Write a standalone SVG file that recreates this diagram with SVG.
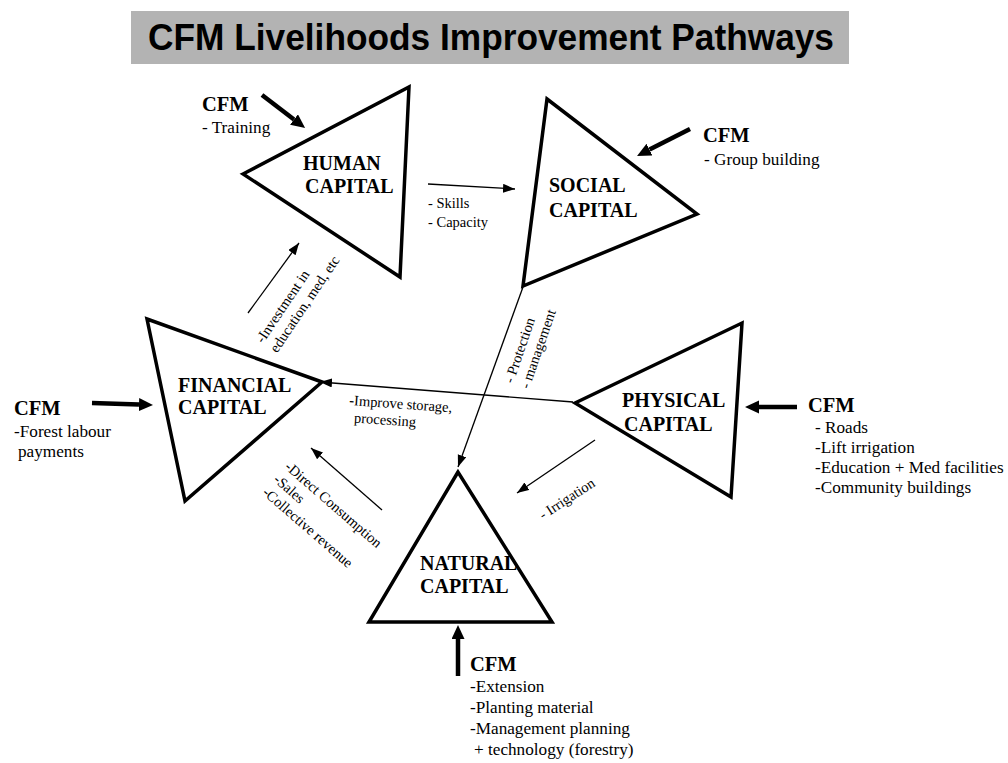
<svg xmlns="http://www.w3.org/2000/svg" width="1008" height="763" viewBox="0 0 1008 763">
<defs>
<style>
.tri{fill:#fff;stroke:#000;stroke-width:3.5;stroke-linejoin:miter}
.node{font-family:"Liberation Serif","Times New Roman",serif;font-weight:bold;font-size:20px;fill:#000}
.cfm{font-family:"Liberation Serif","Times New Roman",serif;font-weight:bold;font-size:20.5px;fill:#000}
.item{font-family:"Liberation Serif","Times New Roman",serif;font-size:17.2px;fill:#000}
.lbl{font-family:"Liberation Serif","Times New Roman",serif;font-size:14.5px;fill:#000}
.thin{stroke:#000;stroke-width:1.3;fill:none;marker-end:url(#ah)}
.thick{stroke:#000;stroke-width:4.5;fill:none;marker-end:url(#ahb)}
</style>
<marker id="ah" markerUnits="userSpaceOnUse" markerWidth="13" markerHeight="10" refX="12" refY="4.5" orient="auto">
<path d="M0,0 L12,4.5 L0,9 z" fill="#000"/>
</marker>
<marker id="ahb" markerUnits="userSpaceOnUse" markerWidth="15" markerHeight="14" refX="0" refY="6.5" orient="auto">
<path d="M0,0 L14,6.5 L0,13 z" fill="#000"/>
</marker>
</defs>
<rect width="1008" height="763" fill="#fff"/>
<g id="title">
<rect x="131" y="11" width="718" height="53" fill="#b3b3b3"/>
<text x="148" y="50" font-family="Liberation Sans, Arial, sans-serif" font-weight="bold" font-size="37" textLength="686" lengthAdjust="spacingAndGlyphs">CFM Livelihoods Improvement Pathways</text>
</g>
<g id="connectors">
<line class="thin" x1="428" y1="184" x2="515" y2="189"/>
<line class="thin" x1="248" y1="313" x2="299" y2="243"/>
<line class="thin" x1="523" y1="287" x2="458" y2="467"/>
<line class="thin" x1="573" y1="402" x2="320" y2="382"/>
<line class="thin" x1="382" y1="510" x2="311" y2="448"/>
<line class="thin" x1="595" y1="440" x2="517" y2="493"/>
<line class="thick" x1="262" y1="95" x2="294" y2="119.5"/>
<line class="thick" x1="690" y1="129" x2="649.5" y2="149.6"/>
<line class="thick" x1="92" y1="403" x2="139" y2="404.5"/>
<line class="thick" x1="797" y1="407" x2="759" y2="407"/>
<line class="thick" x1="458" y1="676" x2="458" y2="639"/>
<text class="lbl" x="428" y="208">- Skills</text>
<text class="lbl" x="428" y="227">- Capacity</text>
<text class="lbl" transform="translate(263,344) rotate(-56)"><tspan x="0" y="0">-Investment in</tspan><tspan x="0" y="17">education,  med, etc</tspan></text>
<text class="lbl" transform="translate(513,384) rotate(-71)"><tspan x="0" y="0">- Protection</tspan><tspan x="0" y="17">- management</tspan></text>
<text class="lbl" transform="translate(349,405) rotate(4)"><tspan x="0" y="0">-Improve storage,</tspan><tspan x="6" y="17">processing</tspan></text>
<text class="lbl" transform="translate(284,468) rotate(41)"><tspan x="0" y="0">-Direct Consumption</tspan><tspan x="0" y="17">-Sales</tspan><tspan x="0" y="34">-Collective revenue</tspan></text>
<text class="lbl" transform="translate(543,520) rotate(-33)">- Irrigation</text>
</g>
<g id="human">
<polygon class="tri" points="243,174 409,87 400,277"/>
<text class="node" x="303" y="170">HUMAN</text>
<text class="node" x="305" y="193">CAPITAL</text>
<text class="cfm" x="202" y="111">CFM</text>
<text class="item" x="202" y="133">- Training</text>
</g>
<g id="social">
<polygon class="tri" points="547,99 697,214 523,286"/>
<text class="node" x="549" y="192">SOCIAL</text>
<text class="node" x="549" y="217">CAPITAL</text>
<text class="cfm" x="703" y="142">CFM</text>
<text class="item" x="704" y="165">- Group building</text>
</g>
<g id="financial">
<polygon class="tri" points="147,319 322,382 185,501"/>
<text class="node" x="178" y="392">FINANCIAL</text>
<text class="node" x="178" y="414">CAPITAL</text>
<text class="cfm" x="14" y="415">CFM</text>
<text class="item" x="14" y="437">-Forest labour</text>
<text class="item" x="18" y="457">payments</text>
</g>
<g id="physical">
<polygon class="tri" points="575,403 742,323 731,497"/>
<text class="node" x="622" y="407">PHYSICAL</text>
<text class="node" x="624" y="431">CAPITAL</text>
<text class="cfm" x="808" y="412">CFM</text>
<text class="item" x="815" y="433">- Roads</text>
<text class="item" x="815" y="453">-Lift irrigation</text>
<text class="item" x="815" y="473">-Education + Med facilities</text>
<text class="item" x="815" y="493">-Community buildings</text>
</g>
<g id="natural">
<polygon class="tri" points="458,472 369,622 552,622"/>
<text class="node" x="420" y="570">NATURAL</text>
<text class="node" x="420" y="593">CAPITAL</text>
<text class="cfm" x="470" y="671">CFM</text>
<text class="item" x="470" y="692">-Extension</text>
<text class="item" x="470" y="713">-Planting material</text>
<text class="item" x="470" y="734">-Management planning</text>
<text class="item" x="474" y="755">+ technology (forestry)</text>
</g>
</svg>
